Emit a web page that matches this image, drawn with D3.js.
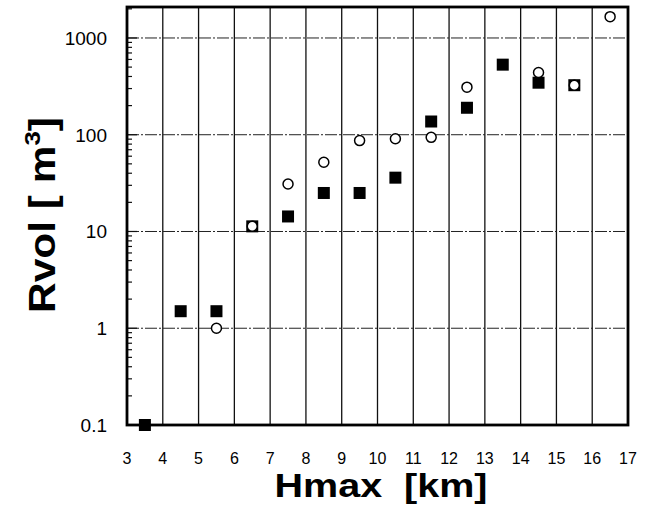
<!DOCTYPE html>
<html>
<head>
<meta charset="utf-8">
<script src="https://cdn.jsdelivr.net/npm/d3@7"></script>
<style>
  body { margin: 0; background: white; }
</style>
</head>
<body>
<div id="chart"></div>
<script>
// Hmax positions (bin centres), km
const squareX = [3.5, 4.5, 5.5, 6.5, 7.5, 8.5, 9.5, 10.5, 11.5, 12.5, 13.5, 14.5, 15.5];
const squareY = [0.1, 1.5, 1.5, 11.3, 14.3, 25, 25, 36, 137, 190, 530, 345, 325];

const circleX = [5.5, 6.5, 7.5, 8.5, 9.5, 10.5, 11.5, 12.5, 14.5, 15.5, 16.5];
const circleY = [1.0, 11.3, 31, 52, 87, 91, 94, 310, 440, 325, 1660];

const xTicks = [3, 4, 5, 6, 7, 8, 9, 10, 11, 12, 13, 14, 15, 16, 17];
const yTicks = [0.1, 1, 10, 100, 1000];

let width = 650, height = 511;
let margin = { top: 7, bottom: 86, left: 127, right: 22 };

let svg = d3.select("#chart")
    .append("svg")
    .attr("width", width)
    .attr("height", height)
    .style("font-family", "'Liberation Sans', Arial, sans-serif");

let xScale = d3.scaleLinear()
    .domain([3, 17])
    .range([margin.left, width - margin.right]);

let yScale = d3.scaleLog()
    .domain([0.1, 2090])
    .range([height - margin.bottom, margin.top]);

// vertical grid lines
svg.append("g")
    .selectAll("line")
    .data(xTicks)
    .enter()
    .append("line")
    .attr("x1", d => xScale(d))
    .attr("x2", d => xScale(d))
    .attr("y1", margin.top)
    .attr("y2", height - margin.bottom)
    .attr("stroke", "#111")
    .attr("stroke-width", 1.3);

// horizontal grid lines (dash-dot)
svg.append("g")
    .selectAll("line")
    .data(yTicks.slice(1))
    .enter()
    .append("line")
    .attr("x1", margin.left)
    .attr("x2", width - margin.right)
    .attr("y1", d => yScale(d))
    .attr("y2", d => yScale(d))
    .attr("stroke", "#222")
    .attr("stroke-width", 1)
    .attr("stroke-dasharray", "12,2,2,2");

// minor log ticks on the left border
let minor = yScale.ticks().filter(d => d >= 0.1 && d <= 2090);
svg.append("g")
    .selectAll("line")
    .data(minor)
    .enter()
    .append("line")
    .attr("x1", margin.left)
    .attr("x2", d => yTicks.includes(d) ? margin.left + 10 : margin.left + 5)
    .attr("y1", d => yScale(d))
    .attr("y2", d => yScale(d))
    .attr("stroke", "#111")
    .attr("stroke-width", 1.2);

// frame
svg.append("rect")
    .attr("x", margin.left)
    .attr("y", margin.top)
    .attr("width", width - margin.left - margin.right)
    .attr("height", height - margin.top - margin.bottom)
    .attr("fill", "none")
    .attr("stroke", "#000")
    .attr("stroke-width", 2.8);

// y tick labels
svg.append("g")
    .selectAll("text")
    .data(yTicks)
    .enter()
    .append("text")
    .attr("x", 107)
    .attr("y", d => yScale(d) + 7)
    .attr("text-anchor", "end")
    .style("font-size", "19px")
    .text(d => d);

// x tick labels
svg.append("g")
    .selectAll("text")
    .data(xTicks)
    .enter()
    .append("text")
    .attr("x", d => xScale(d))
    .attr("y", 464)
    .attr("text-anchor", "middle")
    .style("font-size", "16px")
    .text(d => d);

// filled squares
let sq = 12;
svg.append("g")
    .selectAll("rect")
    .data(squareX.map((x, i) => [x, squareY[i]]))
    .enter()
    .append("rect")
    .attr("x", d => xScale(d[0]) - sq / 2)
    .attr("y", d => yScale(d[1]) - sq / 2)
    .attr("width", sq)
    .attr("height", sq)
    .attr("fill", "#000");

// open circles
svg.append("g")
    .selectAll("circle")
    .data(circleX.map((x, i) => [x, circleY[i]]))
    .enter()
    .append("circle")
    .attr("cx", d => xScale(d[0]))
    .attr("cy", d => yScale(d[1]))
    .attr("r", 5)
    .attr("fill", "white")
    .attr("stroke", "#000")
    .attr("stroke-width", 1.5);

// x axis title
svg.append("text")
    .attr("x", 381)
    .attr("y", 497)
    .attr("text-anchor", "middle")
    .attr("textLength", 213)
    .attr("lengthAdjust", "spacingAndGlyphs")
    .style("font-size", "34px")
    .style("font-weight", "bold")
    .attr("xml:space", "preserve")
    .text("Hmax  [km]");

// y axis title
let yTitle = svg.append("text")
    .attr("transform", "translate(55,215) rotate(-90)")
    .attr("text-anchor", "middle")
    .attr("textLength", 196)
    .attr("lengthAdjust", "spacingAndGlyphs")
    .style("font-size", "36px")
    .style("font-weight", "bold");
yTitle.append("tspan").text("Rvol [ m");
yTitle.append("tspan").attr("dy", -15).style("font-size", "22px").text("3");
yTitle.append("tspan").attr("dy", 15).text("]");
</script>
</body>
</html>
